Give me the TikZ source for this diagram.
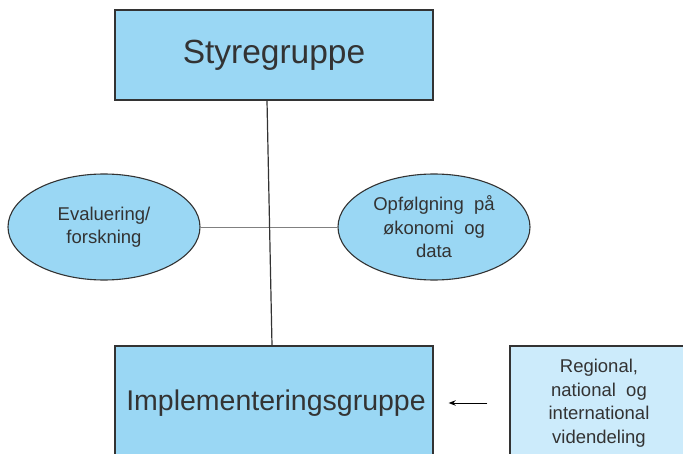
\documentclass[tikz,border=0pt]{standalone}
\usepackage{fontspec}
\setmainfont{Liberation Sans}
\usepackage{tikz}
\usetikzlibrary{calc,positioning,arrows,arrows.meta,shapes.geometric,shapes}
\definecolor{boxblue}{HTML}{9AD7F4}
\definecolor{lightblue}{HTML}{CCEBFB}
\definecolor{linegray}{HTML}{333333}
\definecolor{textgray}{HTML}{333333}
\tikzset{
>={Stealth[length=7pt,width=5.5pt]},
  gruppe/.style={
    rectangle,
    draw=linegray, line width=1.4pt,
    fill=boxblue,
    text=textgray,
    minimum width=318pt,
    inner sep=0pt,
    text centered},
  opgave/.style={
    ellipse,
    draw=linegray, line width=1.1pt,
    fill=boxblue,
    text=textgray,
    minimum width=192pt,
    minimum height=106pt,
    inner sep=0pt,
    align=center,
    font=\fontsize{18.5}{23.5}\selectfont},
  videnboks/.style={
    rectangle,
    draw=linegray, line width=1.4pt,
    fill=lightblue,
    text=textgray,
    minimum width=178pt,
    minimum height=114pt,
    inner sep=0pt,
    align=center,
    font=\fontsize{18.5}{23.5}\selectfont},
  line/.style={draw, thick, <-},
}

\begin{document}
\begin{tikzpicture}[x=1pt,y=-1pt]
    \useasboundingbox (0,0) rectangle (683,454);
    \clip (0,0) rectangle (683,454);
    \node[gruppe, minimum height=90pt, font=\fontsize{33.5}{40}\selectfont] (styre) at (274,55) {Styregruppe};
    \node[gruppe, minimum height=114pt, font=\fontsize{28.5}{34}\selectfont] (impl) at (274,403) {\hspace*{4pt}Implementeringsgruppe};
    \node[opgave] (evaluering) at (104,227) {Evaluering/\\forskning};
    \node[opgave] (opfoelgning) at (434,227) {Opf{\o}lgning\ \ p{\aa}\\{\o}konomi\ \ og\\data};
    \node[videnboks] (viden) at (599,403) {Regional,\\national\ \ og\\international\\videndeling};
%    forbindelser
    \draw[line width=0.6pt, draw=gray] (evaluering.east) -- (opfoelgning.west);
    \draw[line width=1.2pt, draw=linegray] ([xshift=-7pt]styre.south) -- ([xshift=-2pt]impl.north);
    \draw[->, line width=1pt, draw=black, shorten >=15pt, shorten <=22pt] (viden.west) -- (impl.east);
\end{tikzpicture}
\end{document}
